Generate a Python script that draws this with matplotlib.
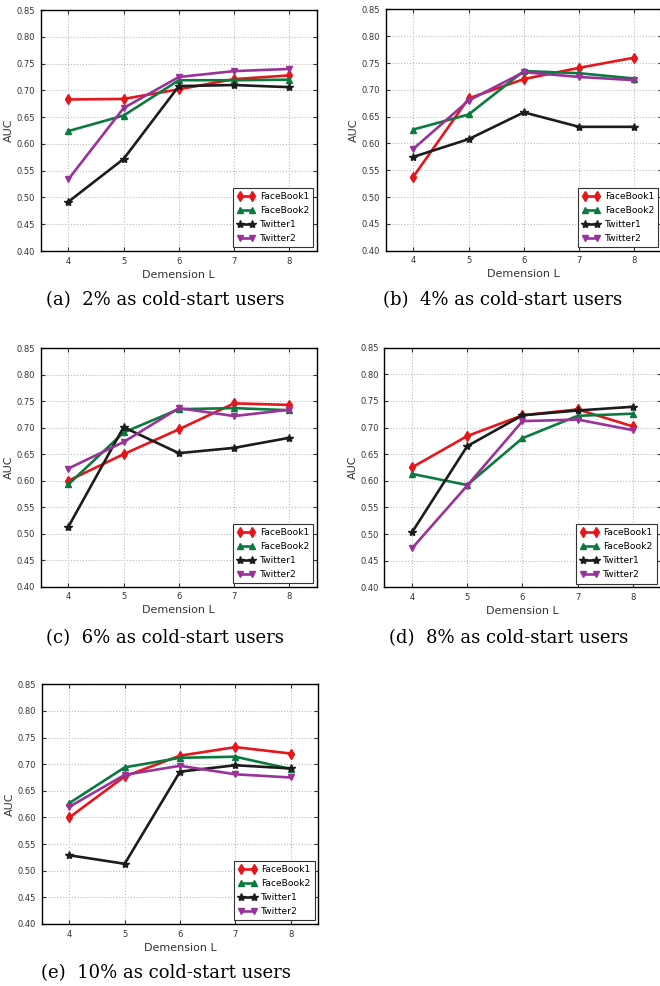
import matplotlib
matplotlib.use("Agg")

import matplotlib.pyplot as plt

dims = [4, 5, 6, 7, 8]
series_names = ["FaceBook1", "FaceBook2", "Twitter1", "Twitter2"]
y_ticks = [0.40, 0.45, 0.50, 0.55, 0.60, 0.65, 0.70, 0.75, 0.80, 0.85]

# AUC values (FaceBook1, FaceBook2, Twitter1, Twitter2)
auc_2 = [
    [0.683, 0.684, 0.702, 0.721, 0.728],
    [0.624, 0.653, 0.719, 0.719, 0.720],
    [0.492, 0.572, 0.708, 0.710, 0.706],
    [0.534, 0.667, 0.725, 0.736, 0.740],
]
auc_4 = [
    [0.538, 0.684, 0.720, 0.741, 0.760],
    [0.626, 0.654, 0.735, 0.731, 0.721],
    [0.575, 0.608, 0.658, 0.631, 0.631],
    [0.590, 0.680, 0.733, 0.724, 0.718],
]
auc_6 = [
    [0.600, 0.650, 0.697, 0.746, 0.743],
    [0.593, 0.691, 0.735, 0.737, 0.733],
    [0.513, 0.701, 0.652, 0.662, 0.681],
    [0.623, 0.673, 0.737, 0.722, 0.734],
]
auc_8 = [
    [0.625, 0.684, 0.723, 0.734, 0.702],
    [0.613, 0.592, 0.680, 0.722, 0.726],
    [0.503, 0.665, 0.723, 0.732, 0.739],
    [0.473, 0.591, 0.712, 0.715, 0.695],
]
auc_10 = [
    [0.600, 0.677, 0.716, 0.732, 0.720],
    [0.627, 0.694, 0.712, 0.714, 0.691],
    [0.529, 0.513, 0.686, 0.698, 0.692],
    [0.620, 0.680, 0.697, 0.681, 0.675],
]
captions = [
    "(a)  2% as cold-start users",
    "(b)  4% as cold-start users",
    "(c)  6% as cold-start users",
    "(d)  8% as cold-start users",
    "(e)  10% as cold-start users",
]

colors = ["#e5161c", "#0b7a3e", "#1c1c1c", "#993399"]
markers = ["d", "^", "*", "v"]

# axes rectangles [left, bottom, width, height] in figure fractions
panel_rects = [
    [0.0617, 0.7454, 0.4186, 0.2444],
    [0.5844, 0.7457, 0.4186, 0.2448],
    [0.0617, 0.4050, 0.4186, 0.2418],
    [0.5823, 0.4044, 0.4186, 0.2430],
    [0.0632, 0.0629, 0.4191, 0.2431],
]
caption_pos = [(0.25, 0.6957), (0.762, 0.6957), (0.25, 0.353), (0.77, 0.353), (0.252, 0.0132)]


def draw_panel(fig, rect, data):
    ax = fig.add_axes(rect)
    for name, vals, c, m in zip(series_names, data, colors, markers):
        ax.plot(dims, vals, color=c, marker=m, markersize=5 if m != "*" else 6,
                markeredgecolor=c, linewidth=1.9, label=name)
    ax.set_xlim(3.5, 8.5)
    ax.set_ylim(0.40, 0.85)
    ax.set_xticks(dims)
    ax.set_yticks(y_ticks)
    ax.set_yticklabels([f"{t:.2f}" for t in y_ticks])
    ax.tick_params(direction="in", top=True, right=True, labelsize=6,
                   length=3, width=0.8, colors="#333333", pad=4)
    ax.grid(True, linestyle=":", color="#bbbbbb", linewidth=0.8)
    for sp in ax.spines.values():
        sp.set_linewidth(1.0)
    ax.set_xlabel("Demension L", fontsize=8, color="#333333", labelpad=3)
    ax.set_ylabel("AUC", fontsize=8, color="#333333", labelpad=2)
    leg = ax.legend(loc="lower right", fontsize=6.6, numpoints=2, fancybox=False,
                    handlelength=2.0, borderpad=0.45, labelspacing=0.55,
                    handletextpad=0.5, framealpha=1, borderaxespad=0.4)
    leg.get_frame().set_edgecolor("#333333")
    leg.get_frame().set_linewidth(0.8)
    return ax


fig = plt.figure(figsize=(6.6, 9.86), dpi=100)
all_data = [auc_2, auc_4, auc_6, auc_8, auc_10]
for rect, data, cap, (cx, cy) in zip(panel_rects, all_data, captions, caption_pos):
    draw_panel(fig, rect, data)
    fig.text(cx, cy, cap, ha="center", va="center", fontsize=13,
             family="DejaVu Serif")

fig.savefig("out.png", dpi=100)
